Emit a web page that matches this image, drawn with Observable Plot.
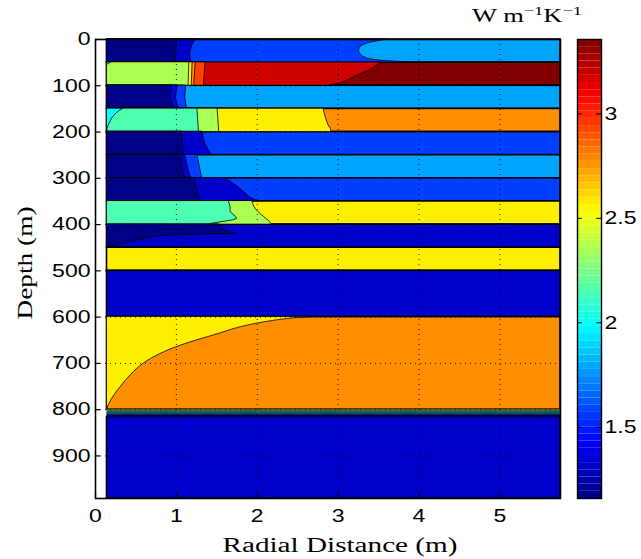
<!DOCTYPE html>
<html>
<head>
<meta charset="utf-8">
<script src="https://cdn.jsdelivr.net/npm/d3@7"></script>
<script src="https://cdn.jsdelivr.net/npm/@observablehq/plot@0.6"></script>
<style>
  html, body { margin: 0; padding: 0; background: #fff; }
  #chart { position: relative; width: 641px; height: 559px; }
</style>
</head>
<body>
<div id="chart"></div>
<script>
// ---------- axes / ticks ----------
const xTicks = [0, 1, 2, 3, 4, 5];
const yTicks = [0, 100, 200, 300, 400, 500, 600, 700, 800, 900];
const cbTicks = [1.5, 2, 2.5, 3];
const kMin = 1.159, kMax = 3.356;          // colour range (W m-1 K-1)
const xMin = 0.142, xMax = 5.75;           // radial extent of model (m)
const depthMax = 992;

// ---------- horizontal layers (far-field conductivity) ----------
const layerTop    = [0,    50,   100,  150,   200,  250,  300,  350,   400,   450,   500,   600,   816];
const layerBottom = [50,   100,  150,  200,   250,  300,  350,  400,   450,   500,   600,   800,   992];
const layerK      = [1.79, 3.35, 1.79, 2.775, 1.57, 1.79, 1.57, 2.567, 1.324, 2.567, 1.324, 2.775, 1.324];

// thin dark band below 800 m
const bandTop    = [800, 805, 811];
const bandBottom = [805, 811, 816];
const bandK      = [2.4, 1.9, 1.35];

// ---------- contour regions near the borehole: [depth, outer radius] ----------
const edge0a = [[0,3.6],[2,3.55],[6,3.42],[11,3.33],[18,3.27],[25,3.26],[32,3.28],[38,3.32],[43,3.41],[46,3.55],[48,3.72],[50,3.85]];
const edge0b = [[0,1.24],[15,1.19],[30,1.17],[50,1.18]];
const edge0c = [[0,1.01],[25,1.0],[50,0.99]];
const edge1a = [[50,3.54],[58,3.47],[65,3.41],[72,3.32],[80,3.22],[90,3.10],[95,3.01],[98,2.93],[100,2.89]];
const edge1b = [[50,1.36],[100,1.34]];
const edge1c = [[50,1.24],[100,1.22]];
const edge1d = [[50,1.20],[100,1.19]];
const edge1e = [[50,1.16],[100,1.15]];
const edge1f = [[50,0.19],[55,0.142]];
const edge2a = [[100,1.12],[125,1.11],[150,1.13]];
const edge2b = [[100,1.02],[125,0.99],[150,1.03]];
const edge2c = [[100,0.945],[125,0.93],[150,0.97]];
const edge3a = [[150,2.82],[170,2.85],[185,2.88],[193,2.91],[200,2.92]];
const edge3b = [[150,1.51],[200,1.53]];
const edge3c = [[150,1.26],[200,1.28]];
const edge3d = [[150,0.34],[160,0.26],[170,0.21],[180,0.18],[190,0.155],[200,0.142]];
const edge4a = [[200,1.325],[215,1.34],[230,1.37],[240,1.40],[250,1.44]];
const edge4b = [[200,1.07],[225,1.08],[250,1.10]];
const edge5a = [[250,1.26],[275,1.29],[300,1.32]];
const edge5b = [[250,1.11],[275,1.14],[300,1.18]];
const edge5c = [[250,1.02],[256,1.05],[262,1.07],[270,1.08],[280,1.07],[290,1.09],[300,1.11]];
const edge6a = [[300,1.61],[308,1.67],[316,1.74],[330,1.84],[344,1.94],[350,2.02]];
const edge6b = [[300,1.22],[315,1.24],[330,1.26],[340,1.28],[350,1.32]];
const edge7a = [[350,1.94],[366,1.98],[380,2.06],[395,2.16],[400,2.18]];
const edge7b = [[350,1.65],[362,1.67],[373,1.67],[384,1.74],[388,1.75],[391,1.70],[398,1.45],[400,1.40]];
const edge8a = [[400,1.53],[410,1.58],[416,1.65],[420,1.74],[421.5,1.3],[423,1.0],[425,0.8],[430,0.62],[436,0.47],[442,0.33],[447,0.2],[450,0.142]];
const edge11a = [[600,2.68],[602,2.5],[605,2.33],[609,2.17],[614,2.0],[620,1.84],[627,1.69],[635,1.55],[648,1.3],[662,1.05],[680,0.8],[700,0.6],[725,0.44],[745,0.34],[770,0.23],[790,0.165],[800,0.142]];

const regionEdges = [edge0a, edge0b, edge0c, edge1a, edge1b, edge1c, edge1d, edge1e, edge1f,
  edge2a, edge2b, edge2c, edge3a, edge3b, edge3c, edge3d, edge4a, edge4b, edge5a, edge5b, edge5c,
  edge6a, edge6b, edge7a, edge7b, edge8a, edge11a];
const regionK = [1.57, 1.324, 1.17, 3.186, 2.94, 2.775, 2.567, 2.35, 1.98,
  1.57, 1.39, 1.17, 2.567, 2.35, 2.15, 1.98, 1.324, 1.17, 1.57, 1.324, 1.17,
  1.324, 1.17, 2.35, 2.15, 1.17, 2.567];
const smoothEdges = new Set([edge0a, edge1a, edge3d, edge6a, edge7a, edge11a]);

// ---------- jet colour map ----------
function jet(t) {
  const c = v => Math.max(0, Math.min(1, v));
  const r = c(1.5 - Math.abs(4 * t - 3)), g = c(1.5 - Math.abs(4 * t - 2)), b = c(1.5 - Math.abs(4 * t - 1));
  return `rgb(${Math.round(r * 255)},${Math.round(g * 255)},${Math.round(b * 255)})`;
}
const colorScale = {type: "linear", domain: [kMin, kMax], interpolate: jet, clamp: true};

const layers = layerTop.map((t, i) => ({top: t, bottom: layerBottom[i], k: layerK[i]}));
const bands = bandTop.map((t, i) => ({top: t, bottom: bandBottom[i], k: bandK[i]}));

const regionMarks = regionEdges.map((edge, i) =>
  Plot.areaX(edge, {
    y: d => d[0], x1: () => xMin, x2: d => d[1],
    fill: () => regionK[i], stroke: "black", strokeWidth: 0.8,
    curve: smoothEdges.has(edge) ? "monotone-y" : "linear"
  })
);

const tickLenX = 5 / 80.9, tickLenY = 5 / 0.4618;
const sans = "'Liberation Sans', Arial, sans-serif";

const main = Plot.plot({
  width: 641, height: 559,
  marginLeft: 95, marginRight: 81, marginTop: 39, marginBottom: 61,
  style: {fontFamily: sans, fontSize: "18px", color: "black", background: "white"},
  x: {domain: [0, xMax], ticks: xTicks, tickSize: 0, tickPadding: 11, label: null, tickFormat: d => String(d)},
  y: {domain: [0, depthMax], reverse: true, ticks: yTicks, tickSize: 0, tickPadding: 5, label: null, tickFormat: d => String(d)},
  color: colorScale,
  marks: [
    Plot.rect(layers, {x1: () => xMin, x2: () => xMax, y1: "top", y2: "bottom", fill: "k", stroke: "black", strokeWidth: 1.6}),
    Plot.rect(bands, {x1: () => xMin, x2: () => xMax, y1: "top", y2: "bottom", fill: "k"}),
    Plot.rect([bandTop[0]], {x1: () => xMin, x2: () => xMax, y1: () => bandTop[0], y2: () => bandBottom[bandBottom.length - 1], fill: "black", fillOpacity: 0.6}),
    ...regionMarks,
    Plot.ruleX(xTicks, {x: d => d, stroke: "black", strokeOpacity: 0.85, strokeDasharray: "1,4"}),
    Plot.ruleY(yTicks, {y: d => d, stroke: "black", strokeOpacity: 0.85, strokeDasharray: "1,4"}),
    Plot.ruleY(yTicks, {y: d => d, x1: 0, x2: tickLenX, stroke: "black", strokeWidth: 1.2}),
    Plot.ruleX(xTicks, {x: d => d, y1: depthMax, y2: depthMax - tickLenY, stroke: "black", strokeWidth: 1.2}),
    Plot.frame({stroke: "black", strokeWidth: 1.6})
  ]
});

const levels = d3.range(64).map(i => {
  const step = (kMax - kMin) / 64;
  return {y1: kMin + i * step, y2: kMin + (i + 1) * step, k: kMin + (i + 0.5) * step};
});

const cbar = Plot.plot({
  width: 641, height: 559,
  marginLeft: 577, marginRight: 40, marginTop: 39, marginBottom: 61,
  style: {fontFamily: sans, fontSize: "18px", color: "black",
          background: "transparent", position: "absolute", left: "0px", top: "0px"},
  x: {domain: [0, 1], axis: null},
  y: {domain: [kMin, kMax], axis: "right", ticks: cbTicks, tickSize: 0, tickPadding: 3, label: null, tickFormat: d => String(d)},
  color: colorScale,
  marks: [
    Plot.rect(levels, {x1: 0, x2: 1, y1: "y1", y2: "y2", fill: "k"}),
    Plot.ruleY(cbTicks, {y: d => d, x1: 0.8, x2: 1, stroke: "black", strokeWidth: 1}),
    Plot.ruleY(cbTicks, {y: d => d, x1: 0, x2: 0.2, stroke: "black", strokeWidth: 1}),
    Plot.frame({stroke: "black", strokeWidth: 1.4})
  ]
});

const chart = document.getElementById("chart");
chart.appendChild(main);
chart.appendChild(cbar);

// stretch tick labels horizontally like the original figure
for (const svg of [main, cbar]) {
  svg.querySelectorAll('g[aria-label$="tick label"] text, g.tick text').forEach(t => {
    const tr = t.getAttribute("transform") || "";
    t.setAttribute("transform", tr + " scale(1.28,1)");
  });
}

// axis titles
const serif = "'Liberation Serif', 'DejaVu Serif', serif";
const ms = d3.select(main);
ms.append("text")
  .attr("x", 340).attr("y", 552).attr("text-anchor", "middle")
  .attr("font-family", serif).attr("font-size", 20)
  .attr("textLength", 235).attr("lengthAdjust", "spacingAndGlyphs")
  .text("Radial Distance (m)");
ms.append("text")
  .attr("transform", "translate(32,263) rotate(-90)").attr("text-anchor", "middle")
  .attr("font-family", serif).attr("font-size", 20)
  .attr("textLength", 113).attr("lengthAdjust", "spacingAndGlyphs")
  .text("Depth (m)");

// unit label on the colour bar, fitted to its width in the original (≈110 px)
const unit = d3.select(cbar).append("text")
  .attr("font-family", serif).attr("font-size", 18);
unit.append("tspan").text("W m");
unit.append("tspan").attr("font-size", 12.5).attr("dy", -7).text("\u22121");
unit.append("tspan").attr("dy", 7).text("K");
unit.append("tspan").attr("font-size", 12.5).attr("dy", -7).text("\u22121");
const bb = unit.node().getBBox();
const sx = bb.width > 0 ? 110 / bb.width : 1.4;
unit.attr("transform", `translate(527,22) scale(${sx},1)`);
</script>
</body>
</html>
